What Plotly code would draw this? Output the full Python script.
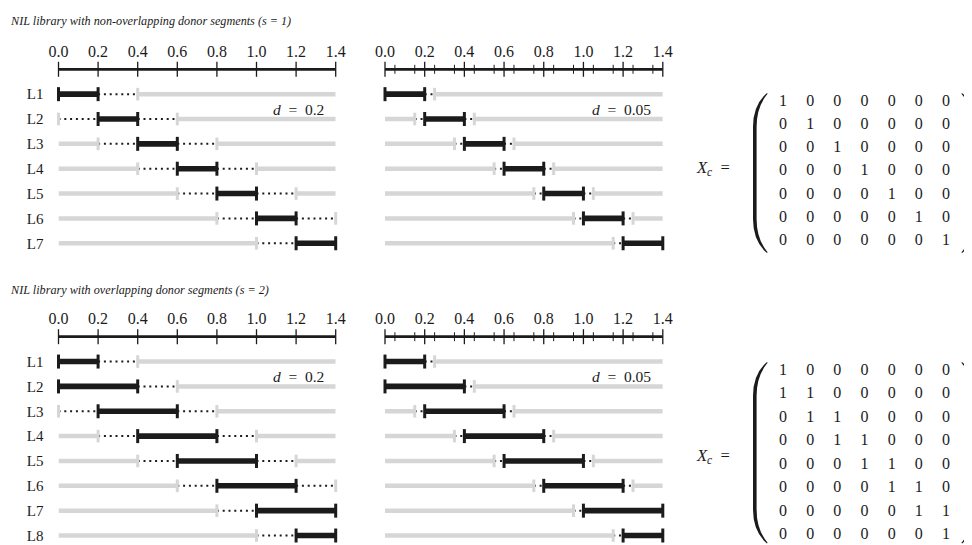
import plotly.graph_objects as go

W, H = 972, 545
FONT = "Liberation Serif"
INK = "#1b1b1b"
GREY = "#d6d6d6"

# ---------------- data ----------------
chrom_range = [0.0, 1.4]
major_ticks = [0.0, 0.2, 0.4, 0.6, 0.8, 1.0, 1.2, 1.4]
major_tick_labels = ["0.0", "0.2", "0.4", "0.6", "0.8", "1.0", "1.2", "1.4"]
fine_minor_ticks = [0.05, 0.15, 0.25, 0.35, 0.45, 0.55, 0.65, 0.75,
                    0.85, 0.95, 1.05, 1.15, 1.25, 1.35]
flank_d = [0.2, 0.05]
flank_d_labels = ["0.2", "0.05"]

titles = ["NIL library with non-overlapping donor segments (s = 1)",
          "NIL library with overlapping donor segments (s = 2)"]

lines_s1 = ["L1", "L2", "L3", "L4", "L5", "L6", "L7"]
start_s1 = [0.0, 0.2, 0.4, 0.6, 0.8, 1.0, 1.2]
end_s1 = [0.2, 0.4, 0.6, 0.8, 1.0, 1.2, 1.4]

lines_s2 = ["L1", "L2", "L3", "L4", "L5", "L6", "L7", "L8"]
start_s2 = [0.0, 0.0, 0.2, 0.4, 0.6, 0.8, 1.0, 1.2]
end_s2 = [0.2, 0.4, 0.6, 0.8, 1.0, 1.2, 1.4, 1.4]

Xc_s1 = [[1, 0, 0, 0, 0, 0, 0],
         [0, 1, 0, 0, 0, 0, 0],
         [0, 0, 1, 0, 0, 0, 0],
         [0, 0, 0, 1, 0, 0, 0],
         [0, 0, 0, 0, 1, 0, 0],
         [0, 0, 0, 0, 0, 1, 0],
         [0, 0, 0, 0, 0, 0, 1]]
Xc_s2 = [[1, 0, 0, 0, 0, 0, 0],
         [1, 1, 0, 0, 0, 0, 0],
         [0, 1, 1, 0, 0, 0, 0],
         [0, 0, 1, 1, 0, 0, 0],
         [0, 0, 0, 1, 1, 0, 0],
         [0, 0, 0, 0, 1, 1, 0],
         [0, 0, 0, 0, 0, 1, 1],
         [0, 0, 0, 0, 0, 0, 1]]

# ---------------- geometry (screen pixels) ----------------
PAGE_OFF = 8.0   # default page body margin
PANEL_X = [(58.5, 335.7), (385.0, 662.8)]     # pixel span of chromosome range
ROW0_PX = [69.3, 336.7]                        # pixel y of the axis bar (row 0)
ROW_PITCH = 24.85
ROW_PAD_TOP = 0.1
ROW_EXTRA_BOTTOM = [0.45, 0.45]

MAT_COL1_PX, MAT_COL_PITCH = 783.0, 27.17
MAT_ROW1_PX = [101.7, 370.7]
MAT_ROW_PITCH = [23.2, 23.47]
MAT_X_DOM = (768.0, 960.0)
MAT_Y_DOM = [(90.0, 254.0), (358.0, 548.0)]
PAREN = [dict(top=93.0, bot=253.0), dict(top=362.0, bot=543.5)]
PAREN_BODY_X, PAREN_TIP_X = 753.0, 767.0
XC_Y = [168.0, 456.0]
TITLE_Y = [21.0, 290.0]


def px_x(p):
    return (p - PAGE_OFF) / W


def px_y(p):
    return 1 - (p - PAGE_OFF) / H


def lin_range(v0, p0, pitch, a, b):
    return [v0 + (a - p0) / pitch, v0 + (b - p0) / pitch]


fig = go.Figure()
lo, hi = chrom_range
eps = 1e-9


def add_panel(xa, ya, starts, ends, d, minor):
    gx, gy, dx, dy, bx, by = [], [], [], [], [], []
    gcx, gcy, bcx, bcy = [], [], [], []
    for r, (s, e) in enumerate(zip(starts, ends), start=1):
        left = round(s - d, 6)
        right = round(e + d, 6)
        has_left = s > lo + eps
        has_right = e < hi - eps
        l_out = max(left, lo) if has_left else s
        r_out = min(right, hi) if has_right else e
        if l_out > lo + eps:
            gx += [lo, l_out, None]; gy += [r, r, None]
        if r_out < hi - eps:
            gx += [r_out, hi, None]; gy += [r, r, None]
        if has_left:
            dx += [l_out, s, None]; dy += [r, r, None]
            if left >= lo - eps:
                gcx.append(left); gcy.append(r)
        if has_right:
            dx += [e, r_out, None]; dy += [r, r, None]
            if right <= hi + eps:
                gcx.append(right); gcy.append(r)
        bx += [s, e, None]; by += [r, r, None]
        bcx += [s, e]; bcy += [r, r]
    common = dict(xaxis=xa, yaxis=ya, hoverinfo="skip", showlegend=False)
    fig.add_trace(go.Scatter(x=gx, y=gy, mode="lines",
                             line=dict(color=GREY, width=4.5), **common))
    fig.add_trace(go.Scatter(x=dx, y=dy, mode="lines",
                             line=dict(color=INK, width=2, dash="2px,3.8px"), **common))
    fig.add_trace(go.Scatter(x=bx, y=by, mode="lines",
                             line=dict(color=INK, width=5.6), **common))
    fig.add_trace(go.Scatter(x=gcx, y=gcy, mode="markers", cliponaxis=False,
                             marker=dict(symbol="line-ns", size=9, color=GREY,
                                         line=dict(color=GREY, width=3)), **common))
    fig.add_trace(go.Scatter(x=bcx, y=bcy, mode="markers", cliponaxis=False,
                             marker=dict(symbol="line-ns", size=10, color=INK,
                                         line=dict(color=INK, width=3)), **common))
    # axis bar with crossing ticks
    fig.add_trace(go.Scatter(x=[major_ticks[0], major_ticks[-1]], y=[0, 0], mode="lines",
                             line=dict(color=INK, width=2.7), **common))
    fig.add_trace(go.Scatter(x=major_ticks, y=[0] * len(major_ticks), mode="markers",
                             cliponaxis=False,
                             marker=dict(symbol="line-ns", size=10.7, color=INK,
                                         line=dict(color=INK, width=1.3)), **common))
    if minor:
        fig.add_trace(go.Scatter(x=minor, y=[0] * len(minor), mode="markers",
                                 cliponaxis=False,
                                 marker=dict(symbol="line-ns", size=6.4, color=INK,
                                             line=dict(color=INK, width=1.0)), **common))


blocks = [(lines_s1, start_s1, end_s1, Xc_s1), (lines_s2, start_s2, end_s2, Xc_s2)]
layout = dict(width=W, height=H, autosize=False,
              margin=dict(l=0, r=0, t=0, b=0, pad=0, autoexpand=False),
              paper_bgcolor="white", plot_bgcolor="rgba(0,0,0,0)", showlegend=False)
annotations = []
shapes = []

for b, (labels, starts, ends, Xc) in enumerate(blocks):
    n = len(labels)
    ynum = b + 1
    yname = "y" if ynum == 1 else f"y{ynum}"
    rmin, rmax = -ROW_PAD_TOP, n + ROW_EXTRA_BOTTOM[b]
    top_px = ROW0_PX[b] + rmin * ROW_PITCH
    bot_px = ROW0_PX[b] + rmax * ROW_PITCH
    xl = 2 * b + 1
    xr = 2 * b + 2
    xl_name = "x" if xl == 1 else f"x{xl}"
    xr_name = f"x{xr}"
    layout["yaxis" if ynum == 1 else f"yaxis{ynum}"] = dict(
        domain=[max(0, px_y(bot_px)), px_y(top_px)], range=[rmax, rmin], anchor=xl_name,
        tickmode="array", tickvals=list(range(1, n + 1)), ticktext=labels,
        showgrid=False, zeroline=False, showline=False, ticks="", automargin=False,
        ticklabelstandoff=14, tickfont=dict(family=FONT, size=15, color=INK))
    for k, (xi, xn) in enumerate([(xl, xl_name), (xr, xr_name)]):
        a, c = PANEL_X[k]
        layout["xaxis" if xi == 1 else f"xaxis{xi}"] = dict(
            domain=[px_x(a), px_x(c)], range=chrom_range, anchor=yname, side="top",
            tickmode="array", tickvals=major_ticks, ticktext=major_tick_labels,
            showgrid=False, zeroline=False, showline=False, ticks="", automargin=False,
            ticklabelstandoff=6, tickfont=dict(family=FONT, size=16, color=INK))
        add_panel(xn, yname, starts, ends, flank_d[k], fine_minor_ticks if k == 1 else None)
        annotations.append(dict(
            xref=xn, yref=yname, x=1.35, y=1.62, xanchor="right", yanchor="middle",
            showarrow=False, text=f"<i>d</i>&nbsp;&nbsp;=&nbsp;&nbsp;{flank_d_labels[k]}",
            font=dict(family=FONT, size=15.5, color=INK)))
    # title
    annotations.append(dict(xref="paper", yref="paper", x=px_x(8), y=px_y(TITLE_Y[b]),
                            xanchor="left", yanchor="middle", showarrow=False,
                            text=f"<i>{titles[b]}</i>",
                            font=dict(family=FONT, size=12.2, color=INK)))
    # matrix
    mx = 5 + b
    my = 3 + b
    mxn, myn = f"x{mx}", f"y{my}"
    ya0, ya1 = MAT_Y_DOM[b]
    xrng = lin_range(1, MAT_COL1_PX, MAT_COL_PITCH, *MAT_X_DOM)
    yrng = lin_range(1, MAT_ROW1_PX[b], MAT_ROW_PITCH[b], ya0, ya1)
    layout[f"xaxis{mx}"] = dict(domain=[px_x(MAT_X_DOM[0]), px_x(MAT_X_DOM[1])], range=xrng,
                                anchor=myn, visible=False, automargin=False)
    layout[f"yaxis{my}"] = dict(domain=[max(0, px_y(ya1)), px_y(ya0)],
                                range=[yrng[1], yrng[0]] if px_y(ya1) >= 0 else
                                [1 + (PAGE_OFF + H - MAT_ROW1_PX[b]) / MAT_ROW_PITCH[b], yrng[0]],
                                anchor=mxn, visible=False, automargin=False)
    tx, ty, tt = [], [], []
    for i, row in enumerate(Xc, start=1):
        for j, v in enumerate(row, start=1):
            tx.append(j); ty.append(i); tt.append(str(v))
    fig.add_trace(go.Scatter(x=tx, y=ty, text=tt, mode="text", xaxis=mxn, yaxis=myn,
                             textposition="middle center", cliponaxis=False,
                             textfont=dict(family=FONT, size=16, color=INK),
                             hoverinfo="skip", showlegend=False))
    annotations.append(dict(xref="paper", yref="paper", x=px_x(694), y=px_y(XC_Y[b]),
                            xanchor="left", yanchor="middle", showarrow=False,
                            text="<i>X</i><sub><i>c</i></sub>&nbsp;&nbsp;=",
                            font=dict(family=FONT, size=16.5, color=INK)))
    # parentheses
    center = MAT_COL1_PX + MAT_COL_PITCH * (len(Xc[0]) - 1) / 2
    t, bo = PAREN[b]["top"], PAREN[b]["bot"]
    cv = 34.0
    th = 3.6
    for sgn in (1, -1):
        def X(p):
            return px_x(p if sgn == 1 else 2 * center - p)
        body, tip = PAREN_BODY_X, PAREN_TIP_X
        path = (f"M {X(tip)},{px_y(t)} "
                f"Q {X(body)},{px_y(t + cv * 0.35)} {X(body)},{px_y(t + cv)} "
                f"L {X(body)},{px_y(bo - cv)} "
                f"Q {X(body)},{px_y(bo - cv * 0.35)} {X(tip)},{px_y(bo)} "
                f"L {X(tip + 0.6)},{px_y(bo - 0.8)} "
                f"Q {X(body + th)},{px_y(bo - cv * 0.4)} {X(body + th)},{px_y(bo - cv)} "
                f"L {X(body + th)},{px_y(t + cv)} "
                f"Q {X(body + th)},{px_y(t + cv * 0.4)} {X(tip + 0.6)},{px_y(t + 0.8)} Z")
        shapes.append(dict(type="path", xref="paper", yref="paper", path=path,
                           fillcolor=INK, line=dict(width=0)))

layout["annotations"] = annotations
layout["shapes"] = shapes
fig.update_layout(**layout)
fig.write_html("out.html")
